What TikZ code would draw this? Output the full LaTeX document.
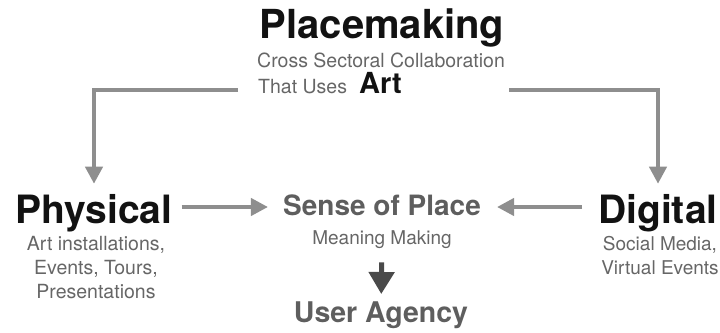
\documentclass[tikz,border=0pt]{standalone}
\usepackage{fontspec}
\setmainfont{TeX Gyre Heros}
\usetikzlibrary{arrows.meta}

\definecolor{linkgray}{HTML}{8E8E8E}
\definecolor{subgray}{HTML}{666666}
\definecolor{midgray}{HTML}{5E5E5E}
\definecolor{darkarrow}{HTML}{4A4A4A}

\begin{document}
\begin{tikzpicture}[
    x=1pt, y=-1pt,
    every node/.style={inner sep=0pt},
    heading/.style={font=\fontsize{39}{44}\selectfont\bfseries, text=black!93},
    middle/.style={font=\fontsize{28}{32}\selectfont\bfseries, text=midgray},
    subtext/.style={font=\fontsize{19.5}{24}\selectfont, text=subgray, align=center},
    link/.style={-{Triangle[length=17pt,width=17pt]}, line width=4pt, draw=linkgray},
    smallarrow/.style={-{Triangle[length=22pt,width=25pt]}, line width=5pt, draw=darkarrow}
  ]
    \useasboundingbox (0,0) rectangle (720,332);

    % Top block
    \node[heading, font=\fontsize{40}{44}\selectfont\bfseries, anchor=base] (title) at (382,38) {Placemaking};
    \node[subtext, anchor=base west] (collab) at (257,67) {Cross Sectoral Collaboration};
    \node[subtext, anchor=base west] (uses) at (258,93) {That Uses};
    \node[heading, font=\fontsize{29}{32}\selectfont\bfseries, anchor=base west] (art) at (359,93) {Art};

    % Left and right sides
    \node[heading, anchor=base] (physical) at (94,223) {Physical};
    \node[subtext, anchor=north] (physdesc) at (96,236) {Art installations,\\Events, Tours,\\Presentations};
    \node[heading, anchor=base] (digital) at (658,223) {Digital};
    \node[subtext, font=\fontsize{19}{24}\selectfont, anchor=north] (digdesc) at (660,236) {Social Media,\\Virtual Events};

    % Centre
    \node[middle, anchor=base] (sense) at (382,215) {Sense of Place};
    \node[subtext, font=\fontsize{19}{24}\selectfont, anchor=base] (meaning) at (382,244) {Meaning Making};
    \node[middle, font=\fontsize{28.5}{32}\selectfont\bfseries, anchor=base] (user) at (381,322) {User Agency};

    % Helper points for the bar
    \coordinate (barl) at ([xshift=-20pt,yshift=3pt]uses.base west);
    \coordinate (barr) at ([xshift=4pt]collab.east |- barl);
    \coordinate (mid) at (382,207);

    % Connectors
    \draw[link, shorten >=10pt] (barl) -| (physical);
    \draw[link, shorten >=10pt] (barr) -| (digital);
    \draw[link, shorten <=9pt, shorten >=15pt] (physical.east |- mid) -- (sense.west |- mid);
    \draw[link, shorten <=16pt, shorten >=16pt] (digital.west |- mid) -- (sense.east |- mid);
    \draw[smallarrow, shorten <=14pt, shorten >=7pt] (meaning) -- (user);

\end{tikzpicture}
\end{document}
